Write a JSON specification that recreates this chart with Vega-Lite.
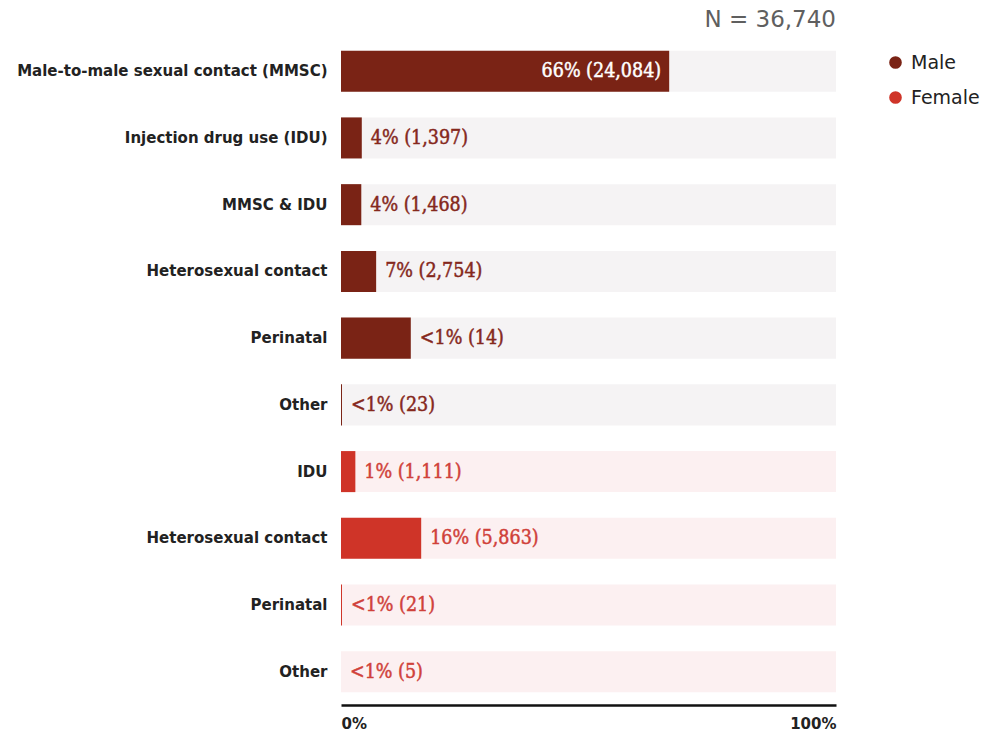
{
  "$schema": "https://vega.github.io/schema/vega-lite/v6.json",
  "width": 495,
  "height": 667,
  "autosize": {"type": "none"},
  "padding": {"left": 341, "top": 38, "right": 152, "bottom": 32},
  "background": "white",
  "title": {"text": "N = 36,740", "anchor": "end", "frame": "group", "offset": 6, "fontSize": 23, "font": "DejaVu Sans", "fontWeight": "normal", "color": "#5f5f5f"},
  "config": {"view": {"stroke": null}},
  "data": {"values": [
    {"key": "M|Male-to-male sexual contact (MMSC)", "sex": "Male", "pct": 66.3, "label": "66% (24,084)"},
    {"key": "M|Injection drug use (IDU)", "sex": "Male", "pct": 4.2, "label": "4% (1,397)"},
    {"key": "M|MMSC & IDU", "sex": "Male", "pct": 4.1, "label": "4% (1,468)"},
    {"key": "M|Heterosexual contact", "sex": "Male", "pct": 7.1, "label": "7% (2,754)"},
    {"key": "M|Perinatal", "sex": "Male", "pct": 14.1, "label": "<1% (14)"},
    {"key": "M|Other", "sex": "Male", "pct": 0.2, "label": "<1% (23)"},
    {"key": "F|IDU", "sex": "Female", "pct": 2.9, "label": "1% (1,111)"},
    {"key": "F|Heterosexual contact", "sex": "Female", "pct": 16.2, "label": "16% (5,863)"},
    {"key": "F|Perinatal", "sex": "Female", "pct": 0.2, "label": "<1% (21)"},
    {"key": "F|Other", "sex": "Female", "pct": 0, "label": "<1% (5)"}
  ]},
  "encoding": {
    "y": {"field": "key", "type": "nominal", "sort": null,
      "scale": {"paddingInner": 0.385, "paddingOuter": 0.19},
      "axis": {"title": null, "domain": false, "ticks": false, "labelPadding": 14, "labelLimit": 400, "labelFont": "DejaVu Sans", "labelFontWeight": "bold", "labelFontSize": 15, "labelColor": "#222222", "labelExpr": "split(datum.label, '|')[1]"}}
  },
  "layer": [
    {
      "mark": {"type": "bar"},
      "encoding": {
        "x": {"datum": 100, "type": "quantitative", "scale": {"domain": [0, 100], "nice": false},
          "axis": {"title": null, "values": [0, 100], "labelExpr": "datum.value + '%'", "grid": false, "ticks": false, "domainColor": "#111111", "domainWidth": 2.5, "labelFlush": true, "labelPadding": 11, "labelFont": "DejaVu Sans", "labelFontWeight": "bold", "labelFontSize": 15, "labelColor": "#222222"}},
        "color": {"condition": {"test": "datum.sex === 'Male'", "value": "#f5f3f4"}, "value": "#fcf0f1"}
      }
    },
    {
      "mark": {"type": "bar"},
      "encoding": {
        "x": {"field": "pct", "type": "quantitative"},
        "color": {"field": "sex", "type": "nominal",
          "scale": {"domain": ["Male", "Female"], "range": ["#7a2315", "#cf3428"]},
          "legend": {"title": null, "orient": "none", "legendX": 545, "legendY": 15, "padding": 0, "symbolType": "circle", "symbolSize": 160, "symbolStrokeWidth": 0, "labelFont": "DejaVu Sans", "labelFontSize": 19, "labelColor": "#222222", "labelOffset": 6, "rowPadding": 15}}
      }
    },
    {
      "transform": [{"filter": "datum.pct < 50"}],
      "mark": {"type": "text", "align": "left", "baseline": "middle", "dx": 9, "font": "DejaVu Serif Condensed", "fontWeight": "normal", "fontSize": 19.5, "strokeWidth": 0.45},
      "encoding": {
        "x": {"field": "pct", "type": "quantitative"},
        "text": {"field": "label"},
        "color": {"condition": {"test": "datum.sex === 'Male'", "value": "#85281c"}, "value": "#d0413a"},
        "stroke": {"condition": {"test": "datum.sex === 'Male'", "value": "#85281c"}, "value": "#d0413a"}
      }
    },
    {
      "transform": [{"filter": "datum.pct >= 50"}],
      "mark": {"type": "text", "align": "right", "baseline": "middle", "dx": -8, "font": "DejaVu Serif Condensed", "fontWeight": "normal", "fontSize": 19.5, "color": "white", "stroke": "white", "strokeWidth": 0.45},
      "encoding": {
        "x": {"field": "pct", "type": "quantitative"},
        "text": {"field": "label"}
      }
    }
  ]
}
